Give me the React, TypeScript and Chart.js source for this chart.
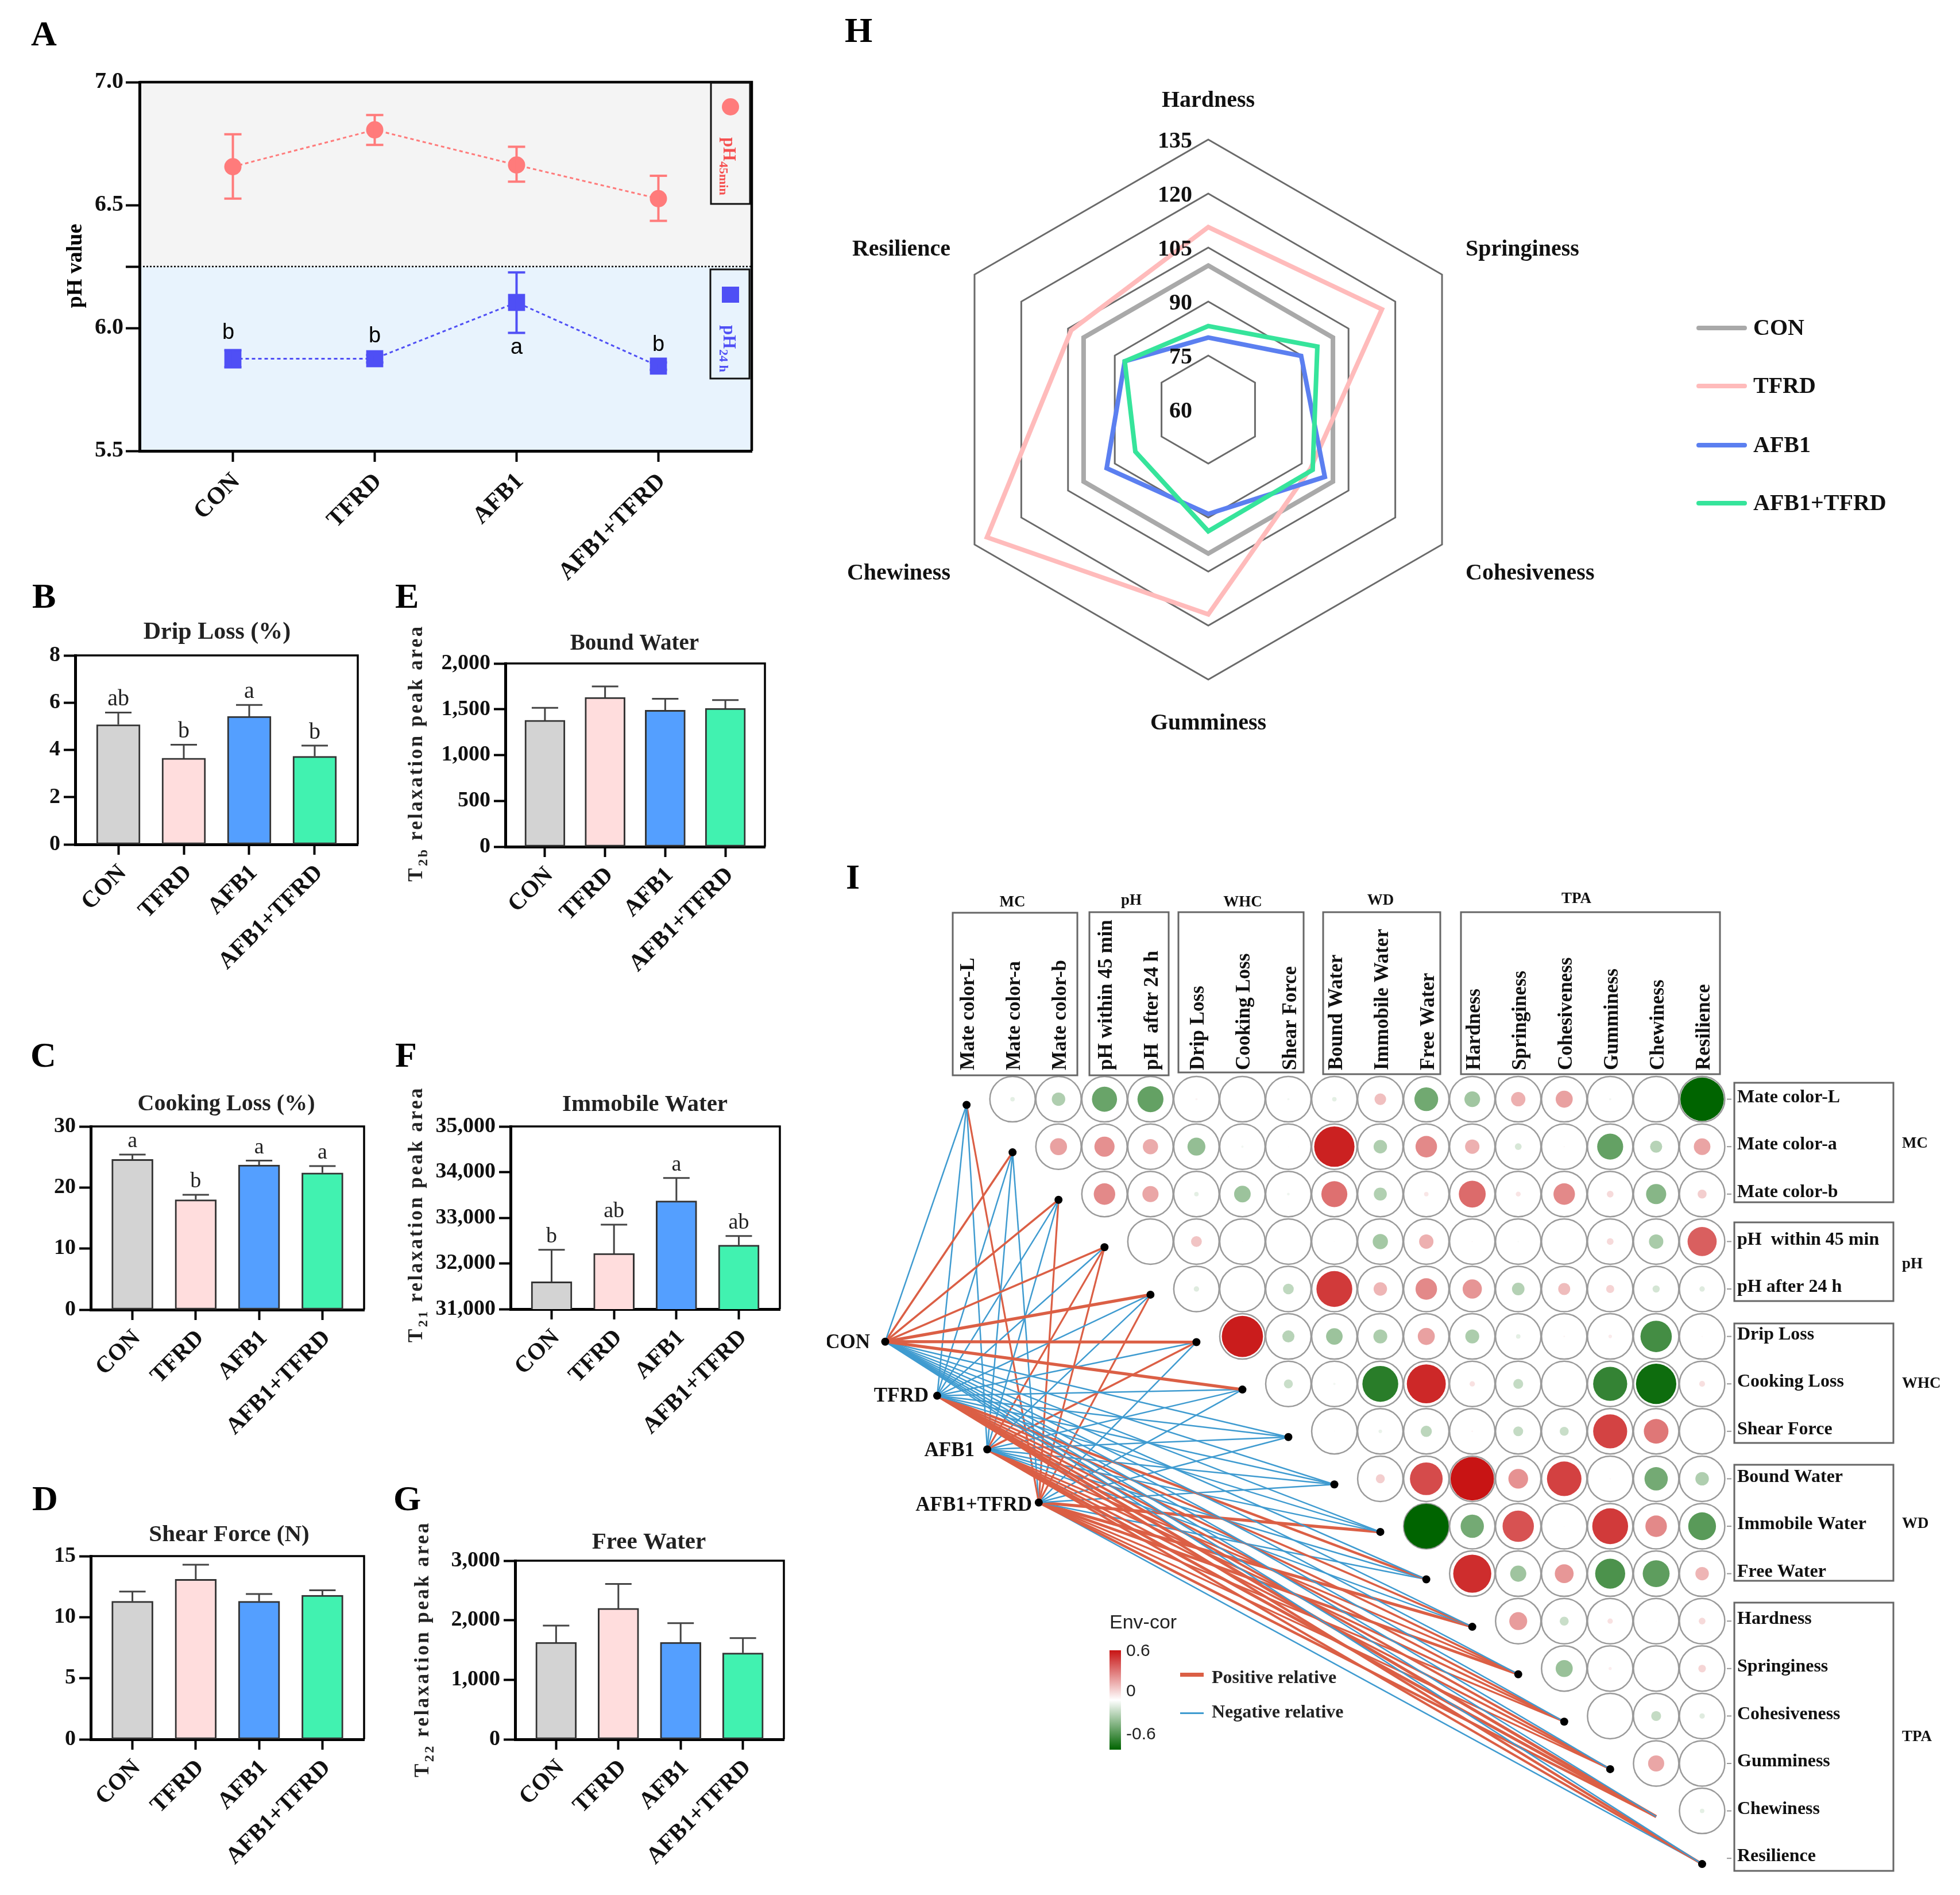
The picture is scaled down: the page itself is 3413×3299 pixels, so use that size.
import React, { useEffect, useRef } from "react";
import { Chart, registerables } from "chart.js";
Chart.register(...registerables);

const SERIF = '"Liberation Serif","Times New Roman",serif';
const SANS = '"Liberation Sans",Arial,sans-serif';

// ---------- data ----------
const groups = ["CON", "TFRD", "AFB1", "AFB1+TFRD"];
const groupIndex = [0, 1, 2, 3];

const ph45 = [6.656, 6.806, 6.663, 6.526];
const ph45Hi = [6.788, 6.866, 6.737, 6.619];
const ph45Lo = [6.526, 6.745, 6.595, 6.436];
const ph24 = [5.875, 5.875, 6.104, 5.845];
const ph24Hi = [5.91, 5.89, 6.226, 5.86];
const ph24Lo = [5.84, 5.86, 5.98, 5.83];
const ph24Letters = ["b", "b", "a", "b"];
const phTicks = [5.5, 6, 6.25, 6.5, 7];

const dripLoss = [5.07, 3.65, 5.42, 3.73];
const dripLossTop = [5.58, 4.22, 5.9, 4.18];
const dripLetters = ["ab", "b", "a", "b"];
const cookingLoss = [24.6, 18.0, 23.7, 22.4];
const cookingTop = [25.4, 18.8, 24.4, 23.5];
const cookingLetters = ["a", "b", "a", "a"];
const shearForce = [11.3, 13.1, 11.3, 11.8];
const shearTop = [12.1, 14.3, 11.9, 12.2];
const boundWater = [1380, 1630, 1490, 1510];
const boundTop = [1515, 1750, 1615, 1600];
const immobileWater = [31600, 32220, 33370, 32400];
const immobileTop = [32300, 32850, 33870, 32600];
const immobileLetters = ["b", "ab", "a", "ab"];
const freeWater = [1630, 2200, 1630, 1450];
const freeTop = [1910, 2610, 1950, 1700];

const radarAxes = ["Hardness", "Springiness", "Cohesiveness", "Gumminess", "Chewiness", "Resilience"];
const radarCon = [100, 100, 100, 100, 100, 100];
const radarTfrd = [110.7, 115.7, 92.8, 116.9, 131, 104];
const radarAfb1 = [80, 89.8, 97.4, 89, 92.6, 86.8];
const radarAfbTfrd = [83.2, 95, 93.5, 93.8, 83.4, 86.8];
const radarTicks = [60, 75, 90, 105, 120, 135];

const traits = [
  "Mate color-L", "Mate color-a", "Mate color-b", "pH within 45 min", "pH  after 24 h",
  "Drip Loss", "Cooking Loss", "Shear Force", "Bound Water", "Immobile Water", "Free Water",
  "Hardness", "Springiness", "Cohesiveness", "Gumminess", "Chewiness", "Resilience",
];
const rowTraits = [
  "Mate color-L", "Mate color-a", "Mate color-b", "pH  within 45 min", "pH after 24 h",
  "Drip Loss", "Cooking Loss", "Shear Force", "Bound Water", "Immobile Water", "Free Water",
  "Hardness", "Springiness", "Cohesiveness", "Gumminess", "Chewiness", "Resilience",
];
// upper triangle, row i holds columns i+1 .. 16
const corrRows = [
  [-0.1, -0.3, -0.56, -0.58, 0.05, 0.01, -0.05, -0.1, 0.26, -0.53, -0.35, 0.32, 0.38, -0.05, 0, -0.97],
  [0.38, 0.45, 0.34, -0.4, -0.05, 0.02, 0.9, -0.3, 0.48, 0.32, -0.15, 0.03, -0.58, -0.27, 0.37],
  [0.48, 0.36, -0.1, -0.37, -0.06, 0.58, -0.29, 0.1, 0.6, 0.11, 0.48, 0.15, -0.45, 0.2],
  [0, 0.24, 0.02, 0, 0.02, -0.34, 0.32, 0.03, -0.03, 0, 0.15, -0.32, 0.65],
  [-0.12, 0, -0.24, 0.8, 0.3, 0.48, 0.43, -0.28, 0.27, 0.18, -0.16, -0.12],
  [0.92, -0.27, -0.37, -0.31, 0.38, -0.31, -0.1, 0.04, 0.08, -0.7, 0.03],
  [-0.2, -0.05, -0.8, 0.87, 0.12, -0.22, 0, -0.76, -0.9, 0.13],
  [-0.02, -0.08, -0.25, 0.04, -0.22, -0.2, 0.76, 0.55, 0],
  [0.2, 0.73, 0.97, 0.44, 0.77, 0.03, -0.52, -0.3],
  [-1, -0.52, 0.7, 0.02, 0.8, 0.48, -0.62],
  [0.85, -0.36, 0.42, -0.67, -0.6, 0.3],
  [0.4, -0.2, 0.12, 0.02, 0.15],
  [-0.38, 0.07, 0, 0.17],
  [0, -0.22, -0.12],
  [0.36, 0],
  [-0.1],
];
const sourceNames = ["CON", "TFRD", "AFB1", "AFB1+TFRD"];
const sourceCols = [-1.77, -0.64, 0.45, 1.57];
const sourceRows = [5.11, 6.25, 7.38, 8.5];
const nodeRowShift = 0.12;
const conLinks = [-0.1, 0.2, 0.2, 0.2, 0.4, 0.4, 0.4, -0.1, -0.1, -0.1, -0.1, -0.1, -0.1, -0.1, -0.1, -0.1, -0.1];
const tfrdLinks = [-0.1, -0.1, -0.1, -0.1, -0.1, -0.1, -0.1, -0.1, -0.1, -0.1, 0.3, 0.2, 0.2, 0.2, 0.25, 0.4, 0.3];
const afb1Links = [-0.1, -0.1, -0.1, 0.15, -0.1, 0.2, -0.1, -0.1, -0.1, -0.1, -0.1, -0.1, 0.15, 0.2, 0.2, 0.4, 0.25];
const afbTfrdLinks = [0.15, -0.1, 0.15, 0.15, 0.15, -0.1, -0.1, -0.1, -0.1, 0.4, -0.1, 0.4, 0.35, 0.15, 0.15, 0.3, -0.1];
const hiddenNodes = [15];

// ---------- text helpers ----------
function txt(ctx: any, s: string, x: number, y: number, font: string, o: any = {}) {
  ctx.save();
  ctx.font = font;
  ctx.fillStyle = o.color || "#000";
  ctx.textAlign = o.align || "left";
  ctx.textBaseline = o.baseline || "middle";
  ctx.translate(x, o.rot ? y : y + 2);
  if (o.rot) ctx.rotate(o.rot);
  ctx.fillText(s, 0, 0);
  ctx.restore();
}

function yTitleSub(ctx: any, head: string, sub: string, tail: string, x: number, y: number, size: number, spacing: number) {
  ctx.save();
  ctx.translate(x, y);
  ctx.rotate(-Math.PI / 2);
  ctx.fillStyle = "#222";
  ctx.textBaseline = "alphabetic";
  ctx.textAlign = "left";
  (ctx as any).letterSpacing = spacing + "px";
  const f1 = `bold ${size}px ${SERIF}`;
  const f2 = `bold ${Math.round(size * 0.68)}px ${SERIF}`;
  ctx.font = f1;
  const w1 = ctx.measureText(head).width;
  const w3 = ctx.measureText(tail).width;
  ctx.font = f2;
  const w2 = ctx.measureText(sub).width;
  let p = -(w1 + w2 + w3) / 2;
  ctx.font = f1;
  ctx.fillText(head, p, 0);
  p += w1;
  ctx.font = f2;
  ctx.fillText(sub, p, 9);
  p += w2;
  ctx.font = f1;
  ctx.fillText(tail, p, 0);
  ctx.restore();
}

const X_MIN = -0.658;
const X_MAX = 3.658;

function xAxis(B: number, fontSize: number, tick: number, pad: number, off: number) {
  return {
    type: "linear",
    offset: false,
    min: X_MIN,
    max: X_MAX,
    afterBuildTicks: (s: any) => { s.ticks = groupIndex.map((v) => ({ value: v })); },
    afterFit: (s: any) => { s.height = B; s.paddingLeft = 0; s.paddingRight = 0; },
    ticks: {
      autoSkip: false, minRotation: 45, maxRotation: 45, padding: pad, labelOffset: off, color: "#111",
      font: { family: SERIF, size: fontSize, weight: "bold" },
      callback: (v: number) => groups[v],
    },
    grid: { display: true, offset: false, drawOnChartArea: false, drawTicks: true, tickLength: tick, tickWidth: 4, tickColor: "#000" },
    border: { display: true, width: 5, color: "#000" },
  };
}

// ---------- bar panels ----------
const barColors = ["#D3D3D3", "#FFDDDD", "#549FFF", "#41F2B0"];

function barPanel(p: any) {
  const rect = { left: p.plot[0] - p.L, top: p.plot[2] - p.T, width: p.plot[1] - p.plot[0] + p.L + 24, height: p.plot[3] - p.plot[2] + p.T + p.B };
  const plugin = {
    id: "barExtras",
    afterDraw(chart: any) {
      const ctx = chart.ctx;
      const a = chart.chartArea;
      const ys = chart.scales.y;
      const xs = chart.scales.x;
      ctx.save();
      ctx.translate(-rect.left, -rect.top);
      const ox = rect.left, oy = rect.top;
      ctx.strokeStyle = "#000";
      ctx.lineWidth = 3.5;
      ctx.beginPath();
      ctx.moveTo(a.left + ox, a.top + oy);
      ctx.lineTo(a.right + ox, a.top + oy);
      ctx.lineTo(a.right + ox, a.bottom + oy);
      ctx.stroke();
      ctx.strokeStyle = "#444";
      ctx.lineWidth = 3;
      p.values.forEach((v: number, i: number) => {
        const x = xs.getPixelForValue(i) + ox;
        const y0 = ys.getPixelForValue(v) + oy;
        const y1 = ys.getPixelForValue(p.tops[i]) + oy;
        ctx.beginPath();
        ctx.moveTo(x, y0);
        ctx.lineTo(x, y1);
        ctx.moveTo(x - 23, y1);
        ctx.lineTo(x + 23, y1);
        ctx.stroke();
        if (p.letters) txt(ctx, p.letters[i], x, y1 - 25, `${p.letterSize || 38}px ${SERIF}`, { align: "center", color: "#222" });
      });
      txt(ctx, p.title, p.titlePos[0], p.titlePos[1], `bold ${p.titleSize}px ${SERIF}`, { align: "center", color: "#222" });
      if (p.yTitle) yTitleSub(ctx, "T", p.yTitle, " relaxation peak area", p.yTitlePos[0], p.yTitlePos[1], 35, 3.5);
      ctx.restore();
    },
  };
  const config = {
    type: "bar",
    data: {
      datasets: [{
        data: p.values.map((v: number, i: number) => ({ x: groupIndex[i], y: v })),
        backgroundColor: barColors,
        borderColor: "#333",
        borderWidth: 3,
        borderSkipped: false,
        barThickness: p.barW,
      }],
    },
    options: {
      responsive: false, animation: false, devicePixelRatio: 1, events: [],
      layout: { autoPadding: false, padding: { top: p.T, right: 24, left: 0, bottom: 0 } },
      plugins: { legend: { display: false }, tooltip: { enabled: false }, title: { display: false } },
      scales: {
        x: xAxis(p.B, 41, 18, 8, 8),
        y: {
          min: p.range[0], max: p.range[1],
          afterBuildTicks: (s: any) => {
            const t = [];
            for (let v = p.range[0]; v <= p.range[1]; v += p.step) t.push({ value: v });
            s.ticks = t;
          },
          afterFit: (s: any) => { s.width = p.L; s.paddingTop = 0; s.paddingBottom = 0; },
          ticks: {
            autoSkip: false, padding: 6, color: "#111",
            font: { family: SERIF, size: 38, weight: "bold" },
            callback: (v: number) => v.toLocaleString("en-US"),
          },
          grid: { display: true, drawOnChartArea: false, drawTicks: true, tickLength: 20, tickWidth: 4, tickColor: "#000" },
          border: { display: true, width: 5, color: "#000" },
        },
      },
    },
    plugins: [plugin],
  };
  return { rect, config };
}

// ---------- panel A ----------
function phPanel() {
  const plot = [243, 1309, 143, 785];
  const L = 183, T = 43, B = 265;
  const rect = { left: plot[0] - L, top: plot[2] - T, width: plot[1] - plot[0] + L + 24, height: plot[3] - plot[2] + T + B };
  const plugin = {
    id: "phExtras",
    beforeDraw(chart: any) {
      const ctx = chart.ctx, a = chart.chartArea, ys = chart.scales.y;
      const mid = ys.getPixelForValue(6.25);
      ctx.fillStyle = "#F4F4F4";
      ctx.fillRect(a.left, a.top, a.right - a.left, mid - a.top);
      ctx.fillStyle = "#E8F3FD";
      ctx.fillRect(a.left, mid, a.right - a.left, a.bottom - mid);
    },
    afterDraw(chart: any) {
      const ctx = chart.ctx, a = chart.chartArea, ys = chart.scales.y, xs = chart.scales.x;
      const ox = rect.left, oy = rect.top;
      const mid = ys.getPixelForValue(6.25);
      ctx.strokeStyle = "#000";
      ctx.lineWidth = 4.5;
      ctx.beginPath();
      ctx.moveTo(a.left, a.top);
      ctx.lineTo(a.right, a.top);
      ctx.lineTo(a.right, a.bottom);
      ctx.stroke();
      ctx.save();
      ctx.lineWidth = 2.5;
      ctx.setLineDash([3, 3]);
      ctx.beginPath();
      ctx.moveTo(a.left, mid);
      ctx.lineTo(a.right, mid);
      ctx.stroke();
      ctx.restore();
      // error bars
      const drawErr = (hi: number[], lo: number[], color: string) => {
        ctx.strokeStyle = color;
        ctx.lineWidth = 4;
        hi.forEach((h, i) => {
          const x = xs.getPixelForValue(i);
          const y1 = ys.getPixelForValue(h), y2 = ys.getPixelForValue(lo[i]);
          ctx.beginPath();
          ctx.moveTo(x, y1); ctx.lineTo(x, y2);
          ctx.moveTo(x - 15, y1); ctx.lineTo(x + 15, y1);
          ctx.moveTo(x - 15, y2); ctx.lineTo(x + 15, y2);
          ctx.stroke();
        });
      };
      drawErr(ph45Hi, ph45Lo, "#FF7B7B");
      drawErr(ph24Hi, ph24Lo, "#4F4FF5");
      ctx.save();
      ctx.translate(-ox, -oy);
      const letterY = [578, 584, 604, 599];
      ph24Letters.forEach((s, i) => {
        const x = xs.getPixelForValue(i) + ox - (i === 0 ? 8 : 0);
        txt(ctx, s, x, letterY[i], `38px ${SANS}`, { align: "center" });
      });
      txt(ctx, "pH value", 132, 463, `bold 38px ${SERIF}`, { align: "center", rot: -Math.PI / 2 });
      ctx.strokeStyle = "#111";
      ctx.lineWidth = 3;
      ctx.strokeRect(1238, 144, 68, 211);
      ctx.strokeRect(1237, 469, 68, 190);
      ctx.fillStyle = "#FF7B7B";
      ctx.beginPath();
      ctx.arc(1272, 186, 15, 0, Math.PI * 2);
      ctx.fill();
      ctx.fillStyle = "#4F4FF5";
      ctx.fillRect(1257, 499, 30, 28);
      const side = (head: string, sub: string, y: number, color: string) => {
        txt(ctx, head, 1260, y, `bold 31px ${SERIF}`, { color, rot: Math.PI / 2, baseline: "alphabetic" });
        txt(ctx, sub, 1253, y + 42, `bold 22px ${SERIF}`, { color, rot: Math.PI / 2, baseline: "alphabetic" });
      };
      side("pH", "45min", 239, "#F55050");
      side("pH", "24 h", 566, "#4F4FF5");
      ctx.restore();
    },
  };
  const config = {
    type: "scatter",
    data: {
      datasets: [
        {
          label: "pH45min",
          data: ph45.map((v, i) => ({ x: groupIndex[i], y: v })),
          showLine: true, borderColor: "#FF7B7B", borderWidth: 3, borderDash: [6, 5],
          pointStyle: "circle", pointRadius: 15, pointBackgroundColor: "#FF7B7B", pointBorderWidth: 0,
        },
        {
          label: "pH24h",
          data: ph24.map((v, i) => ({ x: groupIndex[i], y: v })),
          showLine: true, borderColor: "#4F4FF5", borderWidth: 3, borderDash: [6, 5],
          pointStyle: "rect", pointRadius: 21, pointBackgroundColor: "#4F4FF5", pointBorderWidth: 0,
        },
      ],
    },
    options: {
      responsive: false, animation: false, devicePixelRatio: 1, events: [],
      layout: { autoPadding: false, padding: { top: T, right: 24, left: 0, bottom: 0 } },
      plugins: { legend: { display: false }, tooltip: { enabled: false } },
      scales: {
        x: xAxis(B, 42, 19, 10, 6),
        y: {
          min: 5.5, max: 7,
          afterBuildTicks: (s: any) => { s.ticks = phTicks.map((v) => ({ value: v })); },
          afterFit: (s: any) => { s.width = L; s.paddingTop = 0; s.paddingBottom = 0; },
          ticks: {
            autoSkip: false, padding: 4, color: "#111",
            font: { family: SERIF, size: 40, weight: "bold" },
            callback: (v: number) => (v === 6.25 ? "" : v.toFixed(1)),
          },
          grid: { display: true, drawOnChartArea: false, drawTicks: true, tickLength: 24, tickWidth: 4, tickColor: "#000" },
          border: { display: true, width: 5, color: "#000" },
        },
      },
    },
    plugins: [plugin],
  };
  return { rect, config };
}

// ---------- panel H ----------
function radarPanel() {
  const rect = { left: 1460, top: 0, width: 1940, height: 1350 };
  const series = [
    { name: "CON", values: radarCon, color: "#A9A9A9" },
    { name: "TFRD", values: radarTfrd, color: "#FFBBBB" },
    { name: "AFB1", values: radarAfb1, color: "#5B7FF0" },
    { name: "AFB1+TFRD", values: radarAfbTfrd, color: "#36E49B" },
  ];
  const plugin = {
    id: "radarExtras",
    afterDraw(chart: any) {
      const ctx = chart.ctx, r = chart.scales.r;
      const F = `bold 40px ${SERIF}`;
      ctx.save();
      ctx.translate(-rect.left, -rect.top);
      radarTicks.forEach((t) => {
        const d = r.getDistanceFromCenterForValue(t);
        txt(ctx, String(t), r.xCenter + rect.left - 28, r.yCenter - d + 2, F, { align: "right", color: "#111" });
      });
      const pos: any[] = [[2104, 174, "center"], [2552, 433, "left"], [2552, 997, "left"], [2104, 1258, "center"], [1655, 997, "right"], [1655, 433, "right"]];
      radarAxes.forEach((s, i) => txt(ctx, s, pos[i][0], pos[i][1], F, { align: pos[i][2], color: "#111" }));
      const ly = [571, 672, 775, 876];
      series.forEach((s, i) => {
        ctx.strokeStyle = s.color;
        ctx.lineWidth = 8;
        ctx.lineCap = "round";
        ctx.beginPath();
        ctx.moveTo(2958, ly[i]);
        ctx.lineTo(3038, ly[i]);
        ctx.stroke();
        txt(ctx, s.name, 3053, ly[i], F, { color: "#111" });
      });
      ctx.restore();
    },
  };
  const config = {
    type: "radar",
    data: {
      labels: radarAxes,
      datasets: series.map((s, i) => ({
        label: s.name, data: s.values, borderColor: s.color, backgroundColor: "transparent",
        borderWidth: 8, pointRadius: 0, fill: false, tension: 0, order: 3 - i, borderJoinStyle: "miter",
      })),
    },
    options: {
      responsive: false, animation: false, devicePixelRatio: 1, events: [],
      layout: { autoPadding: false, padding: { left: 0, right: 652, top: 243.5, bottom: 166.5 } },
      plugins: { legend: { display: false }, tooltip: { enabled: false } },
      scales: {
        r: {
          min: 60, max: 135,
          ticks: { display: false, stepSize: 15 },
          grid: { color: "#6A6A6A", lineWidth: 3, circular: false },
          angleLines: { display: false },
          pointLabels: { display: false },
        },
      },
    },
    plugins: [plugin],
  };
  return { rect, config };
}

// ---------- panel I ----------
function corrColor(v: number) {
  const t = Math.min(1, Math.abs(v) * 1.05);
  const end = v >= 0 ? [200, 20, 20] : [0, 100, 0];
  const c = end.map((e) => Math.round(255 + (e - 255) * t));
  return `rgb(${c[0]},${c[1]},${c[2]})`;
}

function corrPanel() {
  const rect = { left: 1440, top: 1480, width: 1973, height: 1819 };
  const ringPts: any[] = [];
  const cellPts: any[] = [];
  corrRows.forEach((row, i) =>
    row.forEach((v, j) => {
      const col = i + 1 + j;
      ringPts.push({ x: col, y: i, r: 39.5 });
      cellPts.push({ x: col, y: i, r: 39 * Math.abs(v), v });
    })
  );
  const linkSets = [conLinks, tfrdLinks, afb1Links, afbTfrdLinks];
  const links: any[] = [];
  linkSets.forEach((set, s) =>
    set.forEach((v, k) => {
      links.push({
        type: "scatter", showLine: true, order: 2,
        data: [{ x: sourceCols[s], y: sourceRows[s] }, { x: k, y: k + nodeRowShift }],
        borderColor: v > 0 ? "#DB5F45" : "#3F9BD0",
        borderWidth: v > 0 ? 2 + 8 * v : 2.5,
        pointRadius: 0,
      });
    })
  );
  const nodes = traits.map((_, k) => k).filter((k) => !hiddenNodes.includes(k)).map((k) => ({ x: k, y: k + nodeRowShift }));
  const sources = sourceCols.map((c, i) => ({ x: c, y: sourceRows[i] }));
  const plugin = {
    id: "corrExtras",
    afterDraw(chart: any) {
      const ctx = chart.ctx, xs = chart.scales.x, ys = chart.scales.y;
      ctx.save();
      ctx.translate(-rect.left, -rect.top);
      const ox = rect.left, oy = rect.top;
      const F = `bold 32px ${SERIF}`;
      const G = `bold 27px ${SERIF}`;
      traits.forEach((t, k) => {
        txt(ctx, t, xs.getPixelForValue(k) + ox + 4, 1863, `bold 35px ${SERIF}`, { rot: -Math.PI / 2, color: "#111" });
      });
      rowTraits.forEach((t, k) => {
        const y = ys.getPixelForValue(k) + oy;
        txt(ctx, t, 3025, y - 5, F, { color: "#111" });
        ctx.strokeStyle = "#999";
        ctx.lineWidth = 2;
        ctx.beginPath();
        ctx.moveTo(3007, y);
        ctx.lineTo(3015, y);
        ctx.stroke();
      });
      ctx.strokeStyle = "#666";
      ctx.lineWidth = 3;
      const topBoxes: any[] = [
        ["MC", 1659, 1876, 1589, 1872, 1763, 1569],
        ["pH", 1897, 2035, 1588, 1872, 1970, 1566],
        ["WHC", 2052, 2270, 1588, 1867, 2164, 1569],
        ["WD", 2304, 2508, 1588, 1870, 2404, 1566],
        ["TPA", 2544, 2995, 1588, 1870, 2745, 1563],
      ];
      topBoxes.forEach((b) => {
        ctx.strokeRect(b[1], b[3], b[2] - b[1], b[4] - b[3]);
        txt(ctx, b[0], b[5], b[6], G, { align: "center", color: "#111" });
      });
      const sideBoxes: any[] = [
        ["MC", 1885, 2093, 1989],
        ["pH", 2128, 2265, 2199],
        ["WHC", 2304, 2512, 2407],
        ["WD", 2550, 2752, 2651],
        ["TPA", 2790, 3257, 3022],
      ];
      sideBoxes.forEach((b) => {
        ctx.strokeRect(3020, b[1], 277, b[2] - b[1]);
        txt(ctx, b[0], 3312, b[3], G, { color: "#111" });
      });
      const srcEnd = [1515, 1617, 1697, 1797];
      const srcY = [2336, 2429, 2524, 2619];
      sourceNames.forEach((s, i) => txt(ctx, s, srcEnd[i], srcY[i], `bold 35px ${SERIF}`, { align: "right", color: "#111" }));
      txt(ctx, "Env-cor", 1932, 2824, `34px ${SANS}`, { color: "#222" });
      const g = ctx.createLinearGradient(0, 2873, 0, 3046);
      g.addColorStop(0, "#C81414");
      g.addColorStop(0.5, "#FFFFFF");
      g.addColorStop(1, "#006400");
      ctx.fillStyle = g;
      ctx.fillRect(1932, 2873, 20, 173);
      txt(ctx, "0.6", 1961, 2873, `30px ${SANS}`, { color: "#222" });
      txt(ctx, "0", 1961, 2943, `30px ${SANS}`, { color: "#222" });
      txt(ctx, "-0.6", 1961, 3018, `30px ${SANS}`, { color: "#222" });
      ctx.fillStyle = "#DB5F45";
      ctx.fillRect(2055, 2912, 41, 7);
      ctx.fillStyle = "#3F9BD0";
      ctx.fillRect(2055, 2981, 41, 3);
      txt(ctx, "Positive relative", 2110, 2920, F, { color: "#222" });
      txt(ctx, "Negative relative", 2110, 2980, F, { color: "#222" });
      ctx.restore();
    },
  };
  const config = {
    type: "bubble",
    data: {
      datasets: [
        { data: ringPts, order: 4, backgroundColor: "#FFFFFF", borderColor: "#9A9A9A", borderWidth: 2.5 },
        { data: cellPts, order: 3, backgroundColor: (c: any) => corrColor(c.raw ? c.raw.v : 0), borderWidth: 0 },
        ...links,
        { type: "scatter", data: nodes, order: 1, pointRadius: 7, pointBackgroundColor: "#000", pointBorderWidth: 0 },
        { type: "scatter", data: sources, order: 1, pointRadius: 7, pointBackgroundColor: "#000", pointBorderWidth: 0 },
      ],
    },
    options: {
      responsive: false, animation: false, devicePixelRatio: 1, events: [],
      layout: { autoPadding: false, padding: { left: 43, right: 369, top: 351, bottom: 6 } },
      plugins: { legend: { display: false }, tooltip: { enabled: false } },
      scales: {
        x: { type: "linear", min: -2.5, max: 17, display: false },
        y: { type: "linear", min: -1, max: 16.7, reverse: true, display: false },
      },
    },
    plugins: [plugin],
  };
  return { rect, config };
}

function buildAll() {
  return [
    phPanel(),
    barPanel({ plot: [131, 623, 1141, 1470], L: 130, T: 81, B: 300, range: [0, 8], step: 2, values: dripLoss, tops: dripLossTop, letters: dripLetters, letterSize: 40, barW: 76, title: "Drip Loss (%)", titleSize: 42, titlePos: [378, 1099] }),
    barPanel({ plot: [880, 1332, 1155, 1474], L: 180, T: 81, B: 300, range: [0, 2000], step: 500, values: boundWater, tops: boundTop, barW: 70, title: "Bound Water", titleSize: 39, titlePos: [1105, 1119], yTitle: "2b", yTitlePos: [735, 1311] }),
    barPanel({ plot: [158, 634, 1961, 2280], L: 150, T: 101, B: 280, range: [0, 30], step: 10, values: cookingLoss, tops: cookingTop, letters: cookingLetters, barW: 72, title: "Cooking Loss (%)", titleSize: 40, titlePos: [394, 1921] }),
    barPanel({ plot: [889, 1358, 1961, 2279], L: 190, T: 101, B: 280, range: [31000, 35000], step: 1000, values: immobileWater, tops: immobileTop, letters: immobileLetters, barW: 71, title: "Immobile Water", titleSize: 41, titlePos: [1123, 1921], yTitle: "21", yTitlePos: [735, 2114] }),
    barPanel({ plot: [158, 634, 2709, 3028], L: 150, T: 79, B: 267, range: [0, 15], step: 5, values: shearForce, tops: shearTop, barW: 72, title: "Shear Force (N)", titleSize: 41, titlePos: [399, 2670] }),
    barPanel({ plot: [897, 1365, 2717, 3028], L: 190, T: 79, B: 267, range: [0, 3000], step: 1000, values: freeWater, tops: freeTop, barW: 71, title: "Free Water", titleSize: 41, titlePos: [1130, 2683], yTitle: "22", yTitlePos: [746, 2871] }),
    radarPanel(),
    corrPanel(),
  ];
}

const panelLetters: [string, number, number][] = [
  ["A", 54, 58], ["B", 56, 1037], ["C", 53, 1836], ["D", 56, 2608],
  ["E", 688, 1037], ["F", 688, 1836], ["G", 685, 2608], ["H", 1471, 52], ["I", 1473, 1526],
];

export default function App() {
  const host = useRef<HTMLDivElement>(null);
  useEffect(() => {
    const charts: any[] = [];
    const made: HTMLCanvasElement[] = [];
    buildAll().forEach((p: any) => {
      const c = document.createElement("canvas");
      c.width = p.rect.width;
      c.height = p.rect.height;
      c.style.cssText = `position:absolute;left:${p.rect.left}px;top:${p.rect.top}px;width:${p.rect.width}px;height:${p.rect.height}px;`;
      host.current!.appendChild(c);
      made.push(c);
      charts.push(new Chart(c, p.config));
    });
    return () => {
      charts.forEach((c) => c.destroy());
      made.forEach((c) => c.remove());
    };
  }, []);
  return (
    <div ref={host} style={{ position: "absolute", left: 0, top: 0, width: 3413, height: 3299, overflow: "hidden", background: "#fff" }}>
      {panelLetters.map(([s, x, y]) => (
        <div key={s} style={{ position: "absolute", left: x, top: y - 35, lineHeight: "70px", fontFamily: SERIF, fontWeight: "bold", fontSize: 62, color: "#000" }}>{s}</div>
      ))}
    </div>
  );
}
